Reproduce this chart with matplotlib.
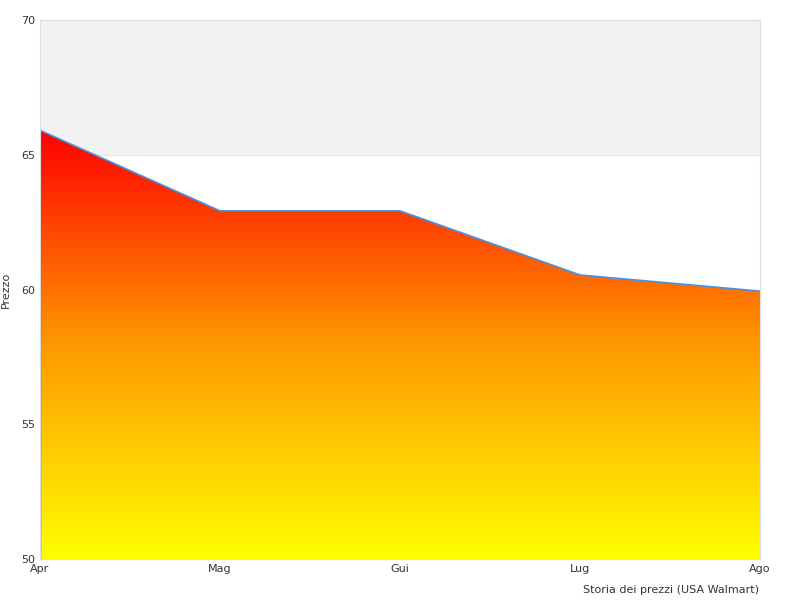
import matplotlib
matplotlib.use("Agg")
import matplotlib.pyplot as plt
import numpy as np
from matplotlib.colors import LinearSegmentedColormap

months = ["Apr", "Mag", "Gui", "Lug", "Ago"]
prices = [65.92, 62.93, 62.93, 60.55, 59.95]

fig = plt.figure(figsize=(8, 6), dpi=100)
ax = fig.add_axes([0.05, 0.068, 0.9, 0.898])
x = np.arange(len(months))
ax.set_xlim(0, len(months) - 1)
ax.set_ylim(50, 70)
ax.axhspan(65, 70, color="#f2f2f2", zorder=0)
ax.axhline(65, color="#e6e6e6", lw=0.8, zorder=0)

poly = ax.fill_between(x, prices, 50, color="none", lw=0)
cmap = LinearSegmentedColormap.from_list("ry", ["#ffff00", "#ff9900", "#ff0000"])
grad = np.linspace(0, 1, 256).reshape(-1, 1)
im = ax.imshow(grad, cmap=cmap, aspect="auto", origin="lower",
               extent=[0, len(months) - 1, 50, max(prices)], zorder=1)
path = poly.get_paths()[0]
im.set_clip_path(path, transform=ax.transData)
ax.plot(x, prices, color="#4a90e2", lw=1.2, zorder=2)
ax.plot([0, 0], [50, prices[0]], color="#555555", lw=1, zorder=2)

ax.set_xticks(x)
ax.set_xticklabels(months)
ax.set_yticks([50, 55, 60, 65, 70])
ax.tick_params(labelsize=8, colors="#333333", length=0)
for s in ax.spines.values():
    s.set_color("#dddddd")
ax.set_ylabel("Prezzo", fontsize=8, color="#333333")
ax.yaxis.set_label_coords(-0.04, 0.5)
fig.text(0.949, 0.008, "Storia dei prezzi (USA Walmart)", ha="right", va="bottom",
         fontsize=8, color="#333333")
fig.savefig("out.png")
